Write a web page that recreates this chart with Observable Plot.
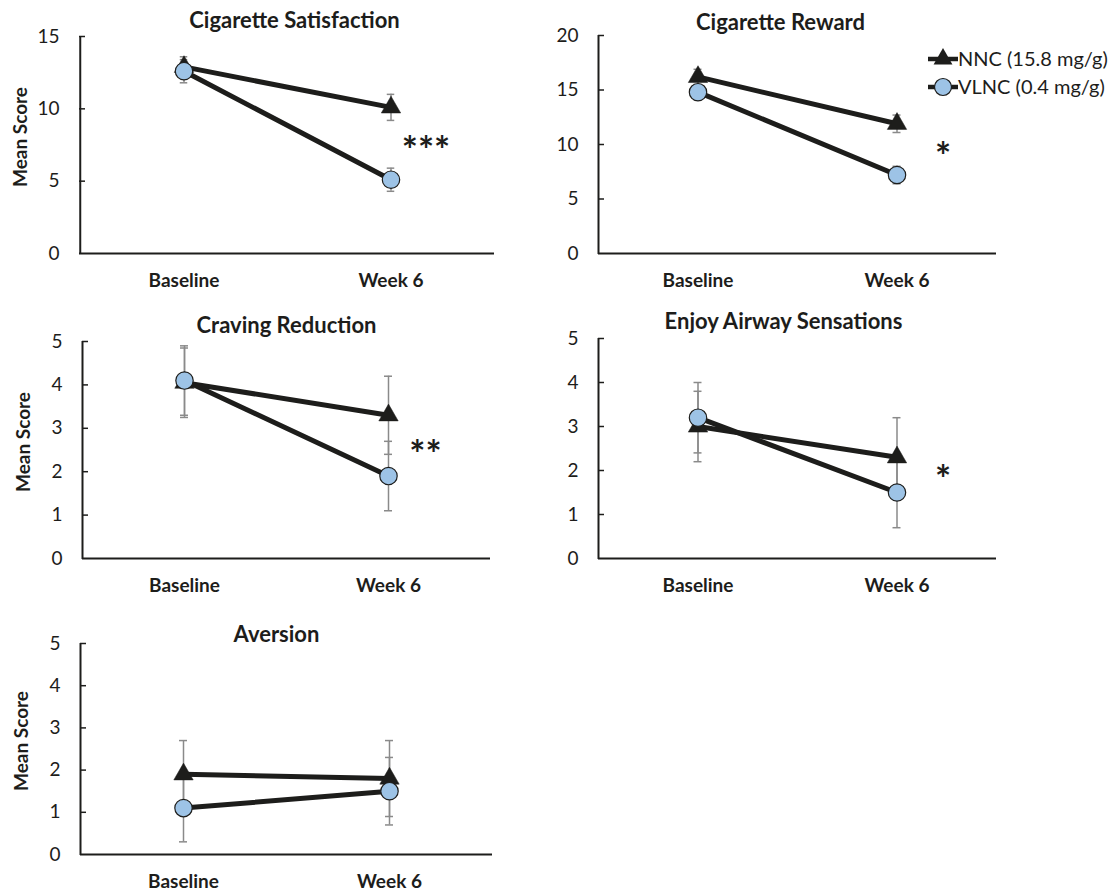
<!DOCTYPE html>
<html>
<head>
<meta charset="utf-8">
<script src="https://cdn.jsdelivr.net/npm/d3@7"></script>
<script src="https://cdn.jsdelivr.net/npm/@observablehq/plot@0.6"></script>
<style>
  body { margin: 0; background: #fff; }
  #chart { position: relative; width: 1118px; height: 892px; font-family: Lato, "Open Sans", sans-serif; background: #fff; }
  .panel { position: absolute; }
  .panel [aria-label^="x-axis"] text { font-weight: bold; }
  .panel [aria-label^="x-axis"], .panel [aria-label^="y-axis"] { font-size: 19px; }
</style>
</head>
<body>
<div id="chart"></div>
<script>
// ---------- data ----------
const categories = ["Baseline", "Week 6"];
const groups = ["NNC (15.8 mg/g)", "VLNC (0.4 mg/g)"];
const titles = ["Cigarette Satisfaction", "Cigarette Reward", "Craving Reduction", "Enjoy Airway Sensations", "Aversion"];
const nncMeans   = [[12.9, 10.1], [16.2, 11.9], [4.05, 3.3], [3.0, 2.3], [1.9, 1.8]];
const nncErrors  = [[0.7, 0.9],   [0.7, 0.8],   [0.8, 0.9],  [0.8, 0.9], [0.8, 0.9]];
const vlncMeans  = [[12.6, 5.1],  [14.8, 7.2],  [4.1, 1.9],  [3.2, 1.5], [1.1, 1.5]];
const vlncErrors = [[0.8, 0.8],   [0.7, 0.8],   [0.8, 0.8],  [0.8, 0.8], [0.8, 0.8]];
const yMax = [15, 20, 5, 5, 5];
const yTicks = [[0, 5, 10, 15], [0, 5, 10, 15, 20], [0, 1, 2, 3, 4, 5], [0, 1, 2, 3, 4, 5], [0, 1, 2, 3, 4, 5]];
const sigLabels = ["***", "*", "**", "*", ""];
const sigY = [7.5, 9.45, 2.53, 1.93, null];
const yLabel = "Mean Score";

// ---------- layout (styles only) ----------
const layout = [
  {left: 0,   top: 0,   width: 500, height: 300, ml: 79, mr: 6,   mt: 36, mb: 47, titleX: 294, titleY: 20, ylab: true,  sigDx: 35},
  {left: 520, top: 0,   width: 598, height: 300, ml: 78, mr: 122, mt: 35, mb: 47, titleX: 260, titleY: 22, ylab: false, sigDx: 46},
  {left: 0,   top: 300, width: 500, height: 300, ml: 82, mr: 10,  mt: 41, mb: 42, titleX: 286, titleY: 25, ylab: true,  sigDx: 37},
  {left: 520, top: 300, width: 598, height: 300, ml: 78, mr: 122, mt: 38, mb: 42, titleX: 263, titleY: 21, ylab: false, sigDx: 46},
  {left: 0,   top: 600, width: 500, height: 292, ml: 80, mr: 8,   mt: 43, mb: 38, titleX: 276, titleY: 34, ylab: true,  sigDx: 35}
];

const FONT = "Lato, 'Open Sans', sans-serif";
const INK = "#1d1d1b";
const ERR = "#8a8a8a";
const BLUE = "#9dc3e6";
const chart = document.getElementById("chart");

titles.forEach((title, p) => {
  const L = layout[p];
  const frameW = L.width - L.ml - L.mr;
  const frameCx = L.ml + frameW / 2;
  const rows = [];
  categories.forEach((c, i) => {
    rows.push({cat: c, group: groups[0], mean: nncMeans[p][i], err: nncErrors[p][i]});
  });
  categories.forEach((c, i) => {
    rows.push({cat: c, group: groups[1], mean: vlncMeans[p][i], err: vlncErrors[p][i]});
  });
  const nnc = rows.filter(d => d.group === groups[0]);
  const vlnc = rows.filter(d => d.group === groups[1]);
  const step = frameW / 2;
  const capInset = step / 2 - 4;

  const marks = [
    // axes lines
    Plot.ruleY([0], {stroke: INK, strokeWidth: 2}),
    Plot.ruleX([categories[0]], {dx: -step / 2, stroke: INK, strokeWidth: 2, insetBottom: -1}),
    // inward y ticks
    Plot.tickY(yTicks[p].slice(1), {y: d => d, stroke: INK, strokeWidth: 1.5, insetRight: frameW - 6}),
    // series lines
    Plot.line(rows, {x: "cat", y: "mean", z: "group", stroke: INK, strokeWidth: 5}),
    // error bars
    Plot.ruleX(rows, {x: "cat", y1: d => d.mean - d.err, y2: d => d.mean + d.err, stroke: ERR, strokeWidth: 1.5}),
    Plot.tickY(rows, {x: "cat", y: d => d.mean + d.err, stroke: ERR, strokeWidth: 1.5, insetLeft: capInset, insetRight: capInset}),
    Plot.tickY(rows, {x: "cat", y: d => d.mean - d.err, stroke: ERR, strokeWidth: 1.5, insetLeft: capInset, insetRight: capInset}),
    // markers
    Plot.dot(nnc, {x: "cat", y: "mean", symbol: "triangle", r: 7.2, fill: INK, stroke: INK, strokeWidth: 0.5}),
    Plot.dot(vlnc, {x: "cat", y: "mean", symbol: "circle", r: 8.7, fill: BLUE, stroke: INK, strokeWidth: 1.2}),
    // title
    Plot.text([title], {frameAnchor: "top", text: d => d, dx: L.titleX - frameCx, dy: L.titleY - L.mt,
      fontSize: 22, fontWeight: "bold", fill: INK, textAnchor: "middle", lineAnchor: "middle"})
  ];
  if (L.ylab) {
    marks.push(Plot.text([yLabel], {frameAnchor: "left", text: d => d, rotate: -90, dx: -59, dy: -8,
      textAnchor: "middle", lineAnchor: "middle", fontSize: 19, fontWeight: "bold", fill: INK}));
  }
  if (sigLabels[p]) {
    marks.push(Plot.text([sigLabels[p]], {x: () => categories[1], y: () => sigY[p], text: d => d,
      dx: L.sigDx, dy: 7, fontSize: 38, fontWeight: "bold", fill: INK}));
  }

  const svg = Plot.plot({
    width: L.width,
    height: L.height,
    marginLeft: L.ml,
    marginRight: L.mr,
    marginTop: L.mt,
    marginBottom: L.mb,
    style: {fontFamily: FONT, fontSize: "19px", color: INK, background: "transparent", overflow: "visible"},
    x: {type: "band", domain: categories, padding: 0, tickSize: 0, tickPadding: 20, label: null},
    y: {domain: [0, yMax[p]], ticks: yTicks[p], tickFormat: d3.format("d"), tickSize: 0, tickPadding: 20, label: null},
    marks
  });
  const div = document.createElement("div");
  div.className = "panel";
  div.style.left = L.left + "px";
  div.style.top = L.top + "px";
  div.appendChild(svg);
  chart.appendChild(div);
});

// ---------- legend ----------
const legend = d3.select(chart).append("svg")
  .attr("width", 200).attr("height", 60)
  .style("position", "absolute").style("left", "918px").style("top", "42px")
  .style("overflow", "visible");
const legendY = [17, 45];
groups.forEach((g, i) => {
  const row = legend.append("g").attr("transform", `translate(0,${legendY[i]})`);
  row.append("line").attr("x1", 10).attr("x2", 40).attr("stroke", INK).attr("stroke-width", 4.5);
  if (i === 0) {
    row.append("path").attr("d", d3.symbol(d3.symbolTriangle, Math.PI * 49)()).attr("transform", "translate(25,0)").attr("fill", INK);
  } else {
    row.append("circle").attr("cx", 25).attr("r", 8.5).attr("fill", BLUE).attr("stroke", INK).attr("stroke-width", 1.2);
  }
  row.append("text").attr("x", 40).attr("y", 0).attr("dy", "0.35em")
    .attr("font-family", FONT).attr("font-size", 20).attr("fill", INK).text(g);
});
</script>
</body>
</html>
